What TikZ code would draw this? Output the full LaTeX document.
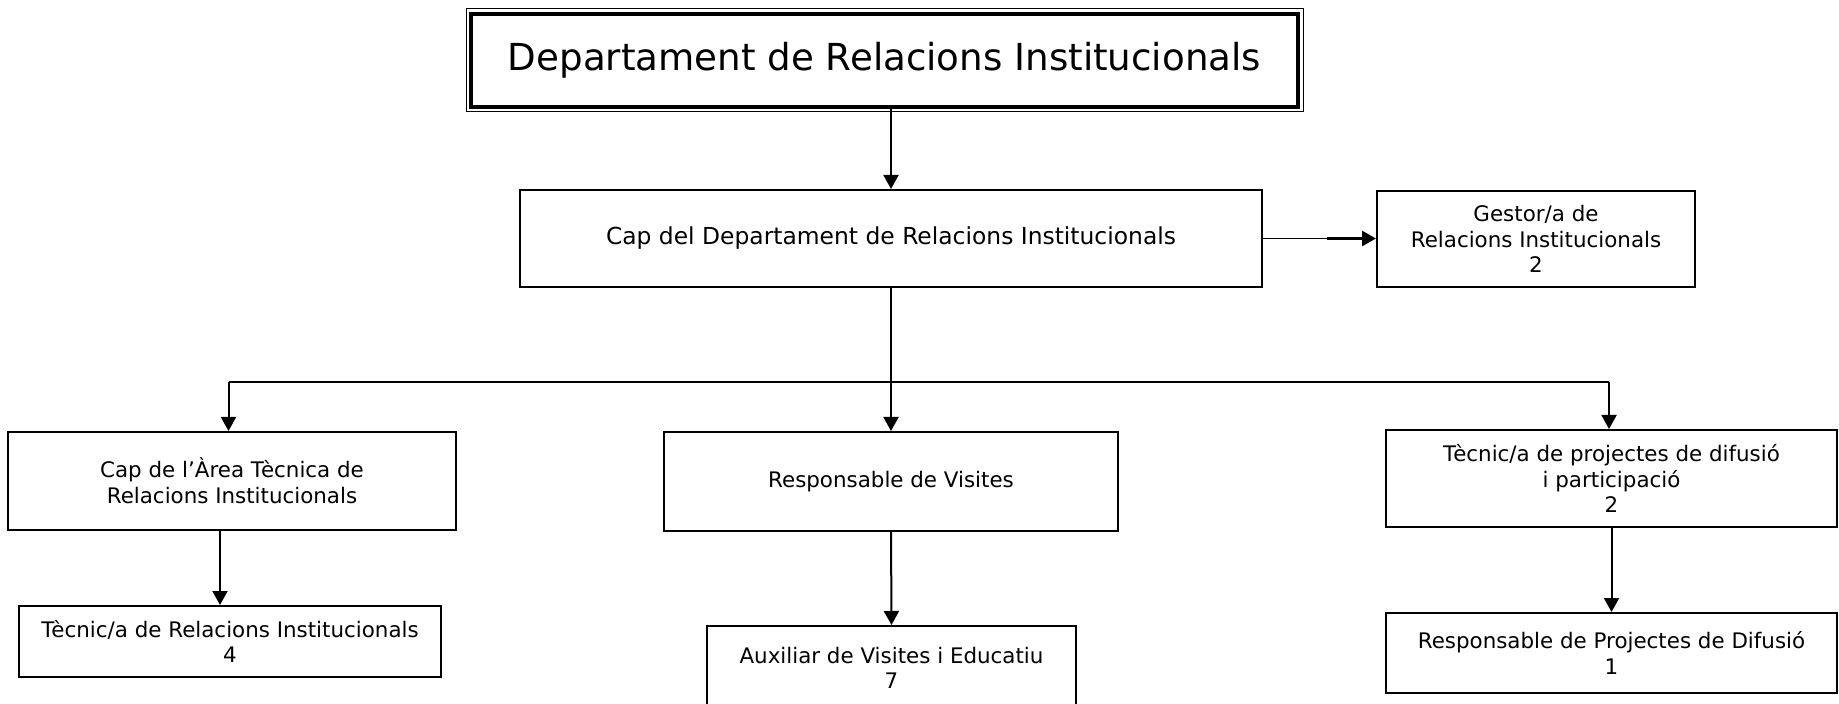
\documentclass[tikz,border=0pt]{standalone}
\usepackage{fontspec}
\setmainfont{DejaVu Sans}
\usetikzlibrary{arrows.meta, positioning, calc}

\begin{document}
\begin{tikzpicture}[
    x=0.5pt, y=-0.5pt,
    every node/.style={font=\fontsize{10.7}{12.8}\selectfont, align=center}, % texte petit
    box/.style={draw, line width=1pt, inner sep=0pt}, % cadres
    conn/.style={line width=1pt, black}, % connecteurs
    arr/.style={conn, -{Triangle[length=7pt, width=7.5pt]}} % fleches
]
    % 0. cadre de la page
    \useasboundingbox (0,0) rectangle (1839,704);

    % 1. departament (double cadre)
    \node[box, line width=2pt, minimum width=413.5pt, minimum height=46.5pt,
          font=\fontsize{18.6}{22}\selectfont] (dept) at (884.5,60.5) {Departament de Relacions Institucionals};
    \draw[line width=0.5pt] ([shift={(-3,-3)}]dept.north west) rectangle ([shift={(3,3)}]dept.south east);

    % 2. cap i gestor
    \node[box, minimum width=371pt, minimum height=48.5pt,
          font=\fontsize{11.7}{14}\selectfont] (cap) at (891,238.5) {Cap del Departament de Relacions Institucionals};
    \node[box, minimum width=159pt, minimum height=48pt] (gestor) at (1536,239) {Gestor/a de\\Relacions Institucionals\\2};

    % 3. segon nivell
    \node[box, minimum width=224pt, minimum height=49pt] (capArea) at (232,481) {Cap de l’Àrea Tècnica de\\Relacions Institucionals};
    \node[box, minimum width=227pt, minimum height=49.5pt] (visites) at (891,481.5) {Responsable de Visites};
    \node[box, minimum width=225.5pt, minimum height=48.5pt] (difusio) at (1611.5,478.5) {Tècnic/a de projectes de difusió\\i participació\\2};

    % 4. tercer nivell
    \node[box, minimum width=211pt, minimum height=35.5pt] (tecRI) at (230,641.5) {Tècnic/a de Relacions Institucionals\\4};
    \node[box, minimum width=184.5pt, minimum height=42pt] (aux) at (891.5,668) {Auxiliar de Visites i Educatiu\\7};
    \node[box, minimum width=225.5pt, minimum height=40pt] (respDif) at (1611.5,653) {Responsable de Projectes de Difusió\\1};

    % 5. connectors
    \coordinate (busL) at (228.5,382);
    \coordinate (busR) at (1609,382);
    \coordinate (gmid) at (1327,238.5);
    \draw[arr] (dept.south -| cap.north) -- (cap.north);
    \draw[conn, line width=0.6pt] (cap.east) -- (gmid);
    \draw[arr, line width=1.3pt] (gmid) -- (gmid -| gestor.west);
    \draw[arr] (cap.south) -- (visites.north);
    \draw[conn] (busL) -- (busR);
    \draw[arr] (busL) -- (busL |- capArea.north);
    \draw[arr] (busR) -- (busR |- difusio.north);
    \draw[arr] ([xshift=-5pt]tecRI.north |- capArea.south) -- ([xshift=-5pt]tecRI.north);
    \draw[arr] (visites.south) -- (aux.north);
    \draw[arr] (difusio.south) -- (respDif.north);

\end{tikzpicture}
\end{document}
